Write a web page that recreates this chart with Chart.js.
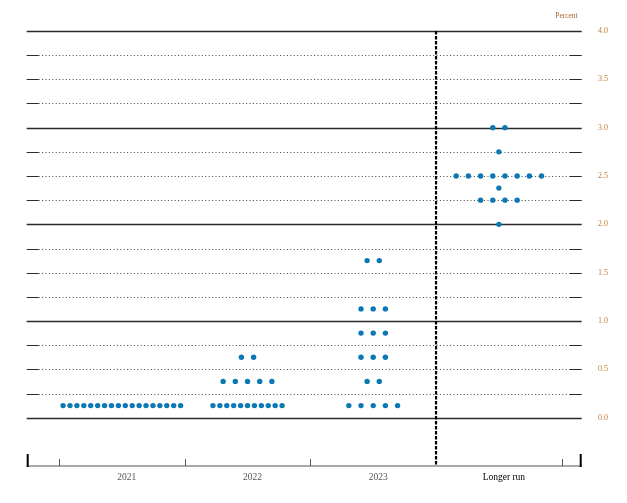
<!DOCTYPE html>
<html>
<head>
<meta charset="utf-8">
<script src="https://cdn.jsdelivr.net/npm/chart.js@4.4.1/dist/chart.umd.min.js"></script>
<style>
  html, body { margin: 0; padding: 0; background: #fff; }
  canvas { display: block; }
</style>
</head>
<body>
<canvas id="dotChart" width="627" height="503"></canvas>
<script>
// ─── Data ────────────────────────────────────────────────────
const categories = ['2021', '2022', '2023', 'Longer run'];

// midpoint of each participant's target range, and how many dots sit there
const levels2021 = [0.125];
const counts2021 = [18];

const levels2022 = [0.125, 0.375, 0.625];
const counts2022 = [11, 5, 2];

const levels2023 = [0.125, 0.375, 0.625, 0.875, 1.125, 1.625];
const counts2023 = [5, 2, 3, 3, 3, 2];

const levelsLonger = [2.0, 2.25, 2.375, 2.5, 2.75, 3.0];
const countsLonger = [1, 4, 1, 8, 1, 2];

const yTickLabels = [0.0, 0.5, 1.0, 1.5, 2.0, 2.5, 3.0, 3.5, 4.0];

const DOT_BLUE = '#0b78b4';

// spread the dots of one rate level side by side around the column centre
function spreadDots(col, levels, counts) {
  const pts = [];
  levels.forEach((lvl, i) => {
    const n = counts[i];
    const gap = n > 8 ? 0.055 : 0.097;
    for (let k = 0; k < n; k++) {
      pts.push({ x: col + 0.5 + (k - (n - 1) / 2) * gap, y: lvl });
    }
  });
  return pts;
}

const columns = [
  [levels2021, counts2021],
  [levels2022, counts2022],
  [levels2023, counts2023],
  [levelsLonger, countsLonger],
];

// ─── Frame: grid, axis, divider ──────────────────────────────
const framePlugin = {
  id: 'fedFrame',
  beforeDatasetsDraw(chart) {
    const { ctx, chartArea: a, scales: { x, y } } = chart;
    ctx.save();

    // horizontal lines every quarter point
    for (let q = 0; q <= 16; q++) {
      const v = q / 4;
      const py = Math.round(y.getPixelForValue(v)) + 0.5;
      if (q % 4 === 0) {
        ctx.setLineDash([]);
        ctx.strokeStyle = '#2a2a2a';
        ctx.lineWidth = 1.4;
        ctx.beginPath(); ctx.moveTo(a.left, py); ctx.lineTo(a.right, py); ctx.stroke();
      } else {
        ctx.setLineDash([1, 2.4]);
        ctx.strokeStyle = '#444';
        ctx.lineWidth = 1;
        ctx.beginPath(); ctx.moveTo(a.left + 12, py); ctx.lineTo(a.right - 12, py); ctx.stroke();
        ctx.setLineDash([]);
        ctx.strokeStyle = '#2a2a2a';
        ctx.lineWidth = 1.2;
        ctx.beginPath();
        ctx.moveTo(a.left, py); ctx.lineTo(a.left + 12, py);
        ctx.moveTo(a.right - 12, py); ctx.lineTo(a.right, py);
        ctx.stroke();
      }
    }

    // bottom axis line with inward ticks
    ctx.setLineDash([]);
    ctx.strokeStyle = '#555';
    ctx.lineWidth = 1.2;
    ctx.beginPath(); ctx.moveTo(a.left, a.bottom); ctx.lineTo(a.right, a.bottom); ctx.stroke();
    ctx.lineWidth = 1;
    [0, 1, 2, 4].forEach(v => {
      const px = Math.round(x.getPixelForValue(v)) + 0.5;
      ctx.beginPath(); ctx.moveTo(px, a.bottom - 7); ctx.lineTo(px, a.bottom); ctx.stroke();
    });
    ctx.strokeStyle = '#000';
    ctx.lineWidth = 2;
    ctx.beginPath();
    ctx.moveTo(a.left + 1, a.bottom - 12); ctx.lineTo(a.left + 1, a.bottom + 1);
    ctx.moveTo(a.right - 1, a.bottom - 12); ctx.lineTo(a.right - 1, a.bottom + 1);
    ctx.stroke();

    // dashed divider before the longer run column
    const dx = x.getPixelForValue(3);
    ctx.setLineDash([3.5, 1.5]);
    ctx.lineWidth = 2.2;
    ctx.strokeStyle = '#000';
    ctx.beginPath(); ctx.moveTo(dx, a.top); ctx.lineTo(dx, a.bottom); ctx.stroke();

    // unit label
    ctx.setLineDash([]);
    ctx.fillStyle = '#a8662a';
    ctx.font = '7.5px "Liberation Serif"';
    ctx.textAlign = 'right';
    ctx.textBaseline = 'middle';
    ctx.fillText('Percent', a.right - 4, 16);

    ctx.restore();
  }
};

// ─── Chart ───────────────────────────────────────────────────
new Chart(document.getElementById('dotChart'), {
  type: 'scatter',
  data: {
    datasets: columns.map(([lv, ct], i) => ({
      label: categories[i],
      data: spreadDots(i, lv, ct),
      backgroundColor: DOT_BLUE,
      borderWidth: 0,
      pointRadius: 2.7,
    }))
  },
  options: {
    responsive: false,
    animation: false,
    layout: { padding: { left: 26.7, top: 31, right: 0, bottom: 0 } },
    plugins: {
      legend: { display: false },
      tooltip: { enabled: false },
    },
    scales: {
      x: {
        type: 'linear',
        min: -0.257,
        max: 4.159,
        grid: { display: false },
        border: { display: false },
        afterBuildTicks: s => { s.ticks = categories.map((c, i) => ({ value: i + 0.5 })); },
        afterFit: s => { s.height = 37; },
        ticks: {
          autoSkip: false,
          maxRotation: 0,
          padding: -2.5,
          labelOffset: 5,
          font: { family: '"Liberation Serif"', size: 9.5 },
          color: c => (c.index === 3 ? '#000' : '#555'),
          callback: (v, i) => categories[i],
        },
      },
      y: {
        position: 'right',
        min: -0.5,
        max: 4,
        grid: { display: false },
        border: { display: false },
        afterBuildTicks: s => { s.ticks = yTickLabels.map(v => ({ value: v })); },
        afterFit: s => { s.width = 45.3; },
        ticks: {
          padding: 8.3,
          font: { family: '"Liberation Serif"', size: 8 },
          color: '#c27a32',
          callback: v => v.toFixed(1),
        },
      },
    },
  },
  plugins: [framePlugin],
});
</script>
</body>
</html>
